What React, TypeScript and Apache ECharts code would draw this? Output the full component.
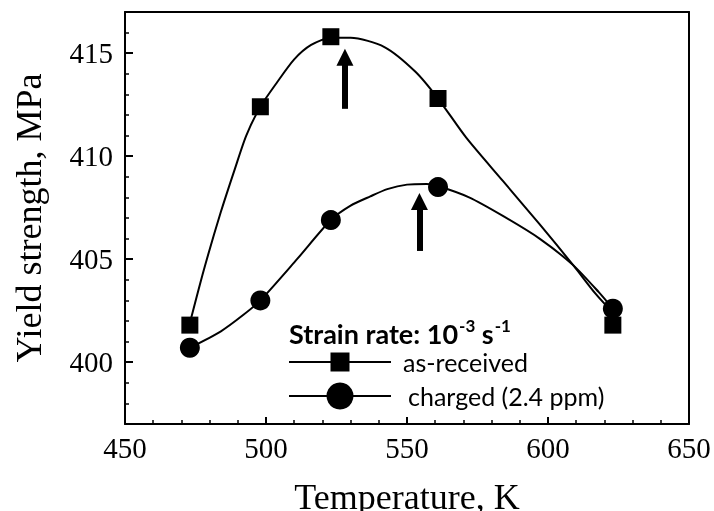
import React, { useEffect, useRef } from "react";
import * as echarts from "echarts";

// Measured points
const temps = [473, 498, 523, 561, 623];
const asReceived = [401.8, 412.4, 415.8, 412.8, 401.8];
const charged = [400.7, 403.0, 406.9, 408.5, 402.6];

// Fitted curves
const asFitT = [473, 478, 484, 489, 493, 498, 504, 510, 516, 523, 530, 542, 553, 561, 571, 584, 597, 609, 617, 623];
const asFitY = [401.9, 404.5, 407.3, 409.4, 411.0, 412.4, 413.6, 414.7, 415.4, 415.75, 415.75, 415.3, 414.1, 412.8, 410.9, 408.8, 406.7, 404.7, 403.3, 402.4];
const chFitT = [473, 484, 492, 498, 511, 523, 530, 537, 543, 550, 557, 561, 572, 584, 597, 609, 618, 623];
const chFitY = [400.7, 401.5, 402.3, 403.0, 405.0, 406.9, 407.6, 408.05, 408.4, 408.62, 408.65, 408.55, 408.0, 407.1, 406.0, 404.7, 403.4, 402.6];

// Arrows: [x, tailY, headY]
const arrows = [
  [528, 412.3, 414.8],
  [554.4, 405.4, 407.8],
];

const yMajor = [400, 405, 410, 415];
const seriesNames = ["as-received", "charged (2.4 ppm)"];

const serif = "Liberation Serif";
const sans = "Lato";

export default function App() {
  const ref = useRef<HTMLDivElement>(null);
  useEffect(() => {
    if (!ref.current) return;
    const chart = echarts.init(ref.current, null, { renderer: "svg" });
    const zip = (a: number[], b: number[]) => a.map((v, i) => [v, b[i]]);
    const frame = { show: true, lineStyle: { color: "#000", width: 2 } };
    chart.setOption({
      animation: false,
      grid: { left: 125, top: 12, right: 25, bottom: 87, outerBoundsMode: "none" },
      xAxis: [
        {
          type: "value",
          position: "bottom",
          min: 450,
          max: 650,
          interval: 50,
          name: "Temperature, K",
          nameLocation: "middle",
          nameGap: 55,
          nameTextStyle: { fontFamily: serif, fontSize: 36, color: "#000" },
          axisLine: { show: true, onZero: false, lineStyle: { color: "#000", width: 2 } },
          axisTick: { show: true, inside: true, length: 7, lineStyle: { color: "#000", width: 2 } },
          minorTick: { show: true, splitNumber: 5, length: 4, lineStyle: { color: "#000", width: 1.5 } },
          axisLabel: { fontFamily: serif, fontSize: 29, color: "#000", margin: 9 },
          splitLine: { show: false },
        },
        {
          type: "value",
          position: "top",
          min: 450,
          max: 650,
          axisLine: { ...frame, onZero: false },
          axisTick: { show: false },
          axisLabel: { show: false },
          splitLine: { show: false },
        },
      ],
      yAxis: [
        {
          type: "value",
          position: "left",
          min: 397,
          max: 417,
          interval: 1,
          name: "Yield strength, MPa",
          nameLocation: "middle",
          nameGap: 78,
          nameTextStyle: { fontFamily: serif, fontSize: 36, color: "#000" },
          axisLine: { show: true, onZero: false, lineStyle: { color: "#000", width: 2 } },
          axisTick: { show: true, inside: true, length: 4, lineStyle: { color: "#000", width: 1.5 } },
          axisLabel: { fontFamily: serif, fontSize: 29, color: "#000", margin: 12, customValues: yMajor },
          splitLine: { show: false },
        },
        {
          type: "value",
          position: "left",
          min: 397,
          max: 417,
          interval: 1,
          axisLine: { show: false, onZero: false },
          axisTick: { show: true, inside: true, length: 8, lineStyle: { color: "#000", width: 2 }, customValues: yMajor },
          axisLabel: { show: false },
          splitLine: { show: false },
        },
        {
          type: "value",
          position: "right",
          min: 397,
          max: 417,
          axisLine: { ...frame, onZero: false },
          axisTick: { show: false },
          axisLabel: { show: false },
          splitLine: { show: false },
        },
      ],
      graphic: [
        {
          type: "text",
          left: 289,
          top: 317,
          style: {
            text: "{b|Strain rate: 10}{s|-3}{b| s}{s|-1}",
            rich: {
              b: { fontFamily: sans, fontWeight: "bold", fontSize: 27, fill: "#000", lineHeight: 30, verticalAlign: "bottom" },
              s: { fontFamily: sans, fontWeight: "bold", fontSize: 17, fill: "#000", lineHeight: 30, verticalAlign: "top", padding: [0, 0, 0, 1] },
            },
          },
        },
        { type: "line", shape: { x1: 289, y1: 362, x2: 391, y2: 362 }, style: { stroke: "#000", lineWidth: 2 } },
        { type: "rect", shape: { x: 330.5, y: 352.5, width: 19, height: 19 }, style: { fill: "#000" } },
        { type: "text", x: 403, y: 362, style: { text: seriesNames[0], fontFamily: sans, fontSize: 25, fill: "#000", verticalAlign: "middle" } },
        { type: "line", shape: { x1: 289, y1: 396, x2: 391, y2: 396 }, style: { stroke: "#000", lineWidth: 2 } },
        { type: "circle", shape: { cx: 340, cy: 396, r: 13.5 }, style: { fill: "#000" } },
        { type: "text", x: 408, y: 396, style: { text: seriesNames[1], fontFamily: sans, fontSize: 25, fill: "#000", verticalAlign: "middle" } },
      ],
      series: [
        {
          name: seriesNames[0],
          type: "line",
          data: zip(asFitT, asFitY),
          smooth: 0.25,
          showSymbol: false,
          lineStyle: { color: "#000", width: 2 },
          itemStyle: { color: "#000" },
          silent: true,
          markLine: {
            silent: true,
            symbol: ["none", "triangle"],
            symbolSize: 17,
            label: { show: false },
            lineStyle: { color: "#000", width: 6, type: "solid", opacity: 1 },
            itemStyle: { color: "#000" },
            emphasis: { disabled: true },
            data: arrows.map((a) => [{ coord: [a[0], a[1]] }, { coord: [a[0], a[2]] }]),
          },
        },
        {
          name: seriesNames[1],
          type: "line",
          data: zip(chFitT, chFitY),
          smooth: 0.25,
          showSymbol: false,
          lineStyle: { color: "#000", width: 2 },
          itemStyle: { color: "#000" },
          silent: true,
        },
        {
          name: seriesNames[0] + " points",
          type: "scatter",
          data: zip(temps, asReceived),
          symbol: "rect",
          symbolSize: 17,
          itemStyle: { color: "#000", opacity: 1 },
          silent: true,
        },
        {
          name: seriesNames[1] + " points",
          type: "scatter",
          data: zip(temps, charged),
          symbol: "circle",
          symbolSize: 20,
          itemStyle: { color: "#000", opacity: 1 },
          silent: true,
        },
      ],
    });
    return () => chart.dispose();
  }, []);
  return <div ref={ref} style={{ position: "fixed", left: 0, top: 0, width: 714, height: 511 }} />;
}
